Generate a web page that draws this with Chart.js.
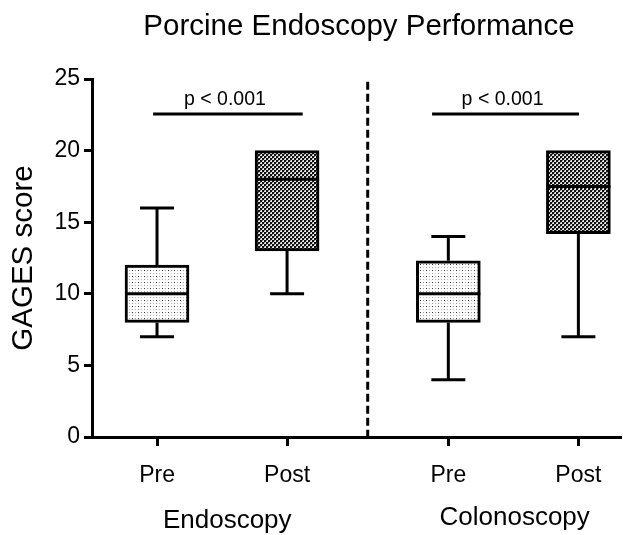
<!DOCTYPE html>
<html>
<head>
<meta charset="utf-8">
<script src="https://cdn.jsdelivr.net/npm/chart.js@4"></script>
<style>
	body { margin: 0; background: #fff; }
	canvas { display: block; }
</style>
</head>
<body>
<canvas id="boxChart" width="623" height="535"></canvas>
<script>
// 박스 데이터 (GAGES score)
const catLabels = ['Pre', 'Post', 'Pre', 'Post'];
const xPositions = [1, 2, 3.24, 4.24];
const whiskerMin = [7, 10, 4, 7];
const boxQ1 = [8, 13, 8, 14.2];
const boxMedian = [10, 18, 10, 17.5];
const boxQ3 = [12, 20, 12.3, 20];
const whiskerMax = [16, 20, 14, 20];

// 그룹 라벨 / 유의성 표시
const groupLabels = ['Endoscopy', 'Colonoscopy'];
const groupCenters = [1.54, 3.75];
const sigText = ['p < 0.001', 'p < 0.001'];
const sigStart = [0.97, 3.115];
const sigEnd = [2.12, 4.245];
const sigValue = 22.55;
const sigTextValue = 23.15;
const dividerX = 2.62;
const yTicks = [0, 5, 10, 15, 20, 25];

function makePattern(dark) {
	const c = document.createElement('canvas');
	const ctx = c.getContext('2d');
	if (dark) {
		c.width = 4; c.height = 4;
		ctx.fillStyle = '#e6e6e6';
		ctx.fillRect(0, 0, 4, 4);
		ctx.fillStyle = '#111';
		ctx.fillRect(0, 0, 2, 2);
		ctx.fillRect(2, 2, 2, 2);
		ctx.fillStyle = '#777';
		ctx.fillRect(2, 0, 1, 1);
		ctx.fillRect(0, 2, 1, 1);
	} else {
		c.width = 6; c.height = 6;
		ctx.fillStyle = '#fff';
		ctx.fillRect(0, 0, 6, 6);
		ctx.fillStyle = '#333';
		ctx.fillRect(0, 0, 1, 1);
		ctx.fillStyle = '#999';
		ctx.fillRect(3, 0, 1, 1);
		ctx.fillRect(0, 3, 1, 1);
		ctx.fillStyle = '#bbb';
		ctx.fillRect(3, 3, 1, 1);
	}
	return ctx.createPattern(c, 'repeat');
}
const preFill = makePattern(false);
const postFill = makePattern(true);

const font = 'Liberation Sans, Arial, sans-serif';

// 수염, 중앙값, 구분선, 제목 등
const boxExtras = {
	id: 'boxExtras',
	beforeDatasetsDraw(chart) {
		const ctx = chart.ctx;
		const xs = chart.scales.x, ys = chart.scales.y;
		const x = xs.getPixelForValue(dividerX);
		ctx.save();
		ctx.strokeStyle = '#000';
		ctx.lineWidth = 3;
		ctx.setLineDash([8, 4]);
		ctx.beginPath();
		ctx.moveTo(x, ys.getPixelForValue(24.8));
		ctx.lineTo(x, ys.getPixelForValue(0));
		ctx.stroke();
		ctx.restore();
	},
	afterDatasetsDraw(chart) {
		const ctx = chart.ctx;
		const xs = chart.scales.x, ys = chart.scales.y;
		const bars = chart.getDatasetMeta(0).data;
		ctx.save();
		ctx.strokeStyle = '#000';
		ctx.lineWidth = 3;
		ctx.lineCap = 'butt';
		xPositions.forEach(function(v, i) {
			const x = xs.getPixelForValue(v);
			const half = bars[i].width / 2;
			ctx.beginPath();
			// 위 수염 (박스 위끝과 같으면 생략)
			if (whiskerMax[i] > boxQ3[i]) {
				ctx.moveTo(x, ys.getPixelForValue(boxQ3[i]));
				ctx.lineTo(x, ys.getPixelForValue(whiskerMax[i]));
				ctx.moveTo(x - 17, ys.getPixelForValue(whiskerMax[i]));
				ctx.lineTo(x + 17, ys.getPixelForValue(whiskerMax[i]));
			}
			// 아래 수염
			if (whiskerMin[i] < boxQ1[i]) {
				ctx.moveTo(x, ys.getPixelForValue(boxQ1[i]));
				ctx.lineTo(x, ys.getPixelForValue(whiskerMin[i]));
				ctx.moveTo(x - 17, ys.getPixelForValue(whiskerMin[i]));
				ctx.lineTo(x + 17, ys.getPixelForValue(whiskerMin[i]));
			}
			// 중앙값
			ctx.moveTo(x - half, ys.getPixelForValue(boxMedian[i]));
			ctx.lineTo(x + half, ys.getPixelForValue(boxMedian[i]));
			ctx.stroke();
		});

		// 유의성 막대
		ctx.fillStyle = '#000';
		ctx.textAlign = 'center';
		ctx.textBaseline = 'alphabetic';
		ctx.font = '19.5px ' + font;
		sigStart.forEach(function(s, i) {
			const y = ys.getPixelForValue(sigValue);
			ctx.beginPath();
			ctx.moveTo(xs.getPixelForValue(s), y);
			ctx.lineTo(xs.getPixelForValue(sigEnd[i]), y);
			ctx.stroke();
			const cx = (xs.getPixelForValue(s) + xs.getPixelForValue(sigEnd[i])) / 2 - 3;
			ctx.fillText(sigText[i], cx, ys.getPixelForValue(sigTextValue));
		});

		// 그룹 라벨
		ctx.font = '26px ' + font;
		groupLabels.forEach(function(g, i) {
			ctx.fillText(g, xs.getPixelForValue(groupCenters[i]), i === 0 ? 528 : 525);
		});

		// 제목
		ctx.font = '29.5px ' + font;
		ctx.fillText('Porcine Endoscopy Performance', 359, 35);
		ctx.restore();
	}
};

new Chart(document.getElementById('boxChart'), {
	type: 'bar',
	data: {
		datasets: [{
			data: xPositions.map(function(v, i) { return { x: v, y: [boxQ1[i], boxQ3[i]] }; }),
			backgroundColor: [preFill, postFill, preFill, postFill],
			borderColor: '#000',
			borderWidth: 3,
			borderSkipped: false,
			barThickness: 64
		}]
	},
	options: {
		responsive: false,
		animation: false,
		devicePixelRatio: 1,
		layout: { padding: { top: 79, right: 3, left: 0, bottom: 0 } },
		plugins: {
			legend: { display: false },
			tooltip: { enabled: false }
		},
		scales: {
			x: {
				type: 'linear',
				min: 0.5,
				max: 4.56,
				offset: false,
				grid: { offset: false, drawOnChartArea: false, drawTicks: true, tickLength: 9, color: '#000', lineWidth: 3 },
				border: { color: '#000', width: 3 },
				afterBuildTicks: function(scale) {
					scale.ticks = xPositions.map(function(v) { return { value: v }; });
				},
				afterFit: function(scale) { scale.height = 98; },
				ticks: {
					color: '#000',
					padding: 16,
					font: { family: font, size: 23 },
					maxRotation: 0,
					autoSkip: false,
					callback: function(value, index) { return catLabels[index]; }
				}
			},
			y: {
				min: 0,
				max: 25,
				afterBuildTicks: function(scale) {
					scale.ticks = yTicks.map(function(v) { return { value: v }; });
				},
				afterFit: function(scale) { scale.width = 92; },
				grid: { drawOnChartArea: false, drawTicks: true, tickLength: 8, color: '#000', lineWidth: 3 },
				border: { color: '#000', width: 3 },
				ticks: {
					color: '#000',
					padding: 4,
					font: { family: font, size: 23 }
				},
				title: {
					display: true,
					text: 'GAGES score',
					color: '#000',
					padding: { top: 6, bottom: 0 },
					font: { family: font, size: 29.5 }
				}
			}
		}
	},
	plugins: [boxExtras]
});
</script>
</body>
</html>
